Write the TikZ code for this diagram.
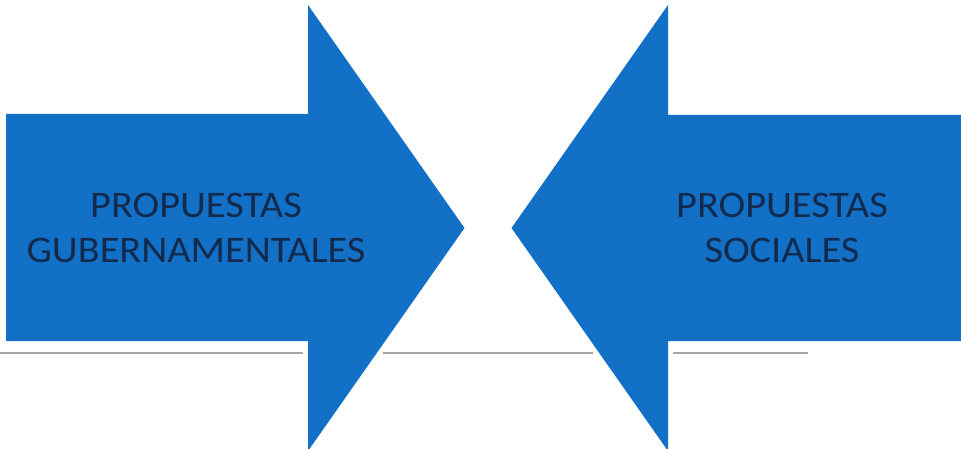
\documentclass[tikz,border=0pt]{standalone}
\usepackage{fontspec}
\setmainfont{Carlito}
\definecolor{arrowblue}{RGB}{18,112,199}
\definecolor{textnavy}{RGB}{18,42,76}
\definecolor{rulegray}{RGB}{166,166,166}
\begin{document}
\begin{tikzpicture}[x=1pt,y=-1pt,
  arrowshape/.style={fill=arrowblue,draw=none},
  rule/.style={draw=rulegray,line width=1.6pt},
  label/.style={text=textnavy,align=center,inner sep=0pt,xscale=1.075,
    font=\fontsize{37.5}{45}\selectfont}]
\useasboundingbox (0,0) rectangle (961,449);
\fill[white] (0,0) rectangle (961,449);
% rules
\draw[rule] (0,353) -- (303,353);
\draw[rule] (383,353) -- (593,353);
\draw[rule] (673,353) -- (808,353);
% left arrow
\path[arrowshape] (6,114) -- (308,114) -- (308,5) -- (464.5,228) -- (308,451) -- (308,341) -- (6,341) -- cycle;
% right arrow
\path[arrowshape] (963,115) -- (668,115) -- (668,5) -- (511.5,228) -- (668,451) -- (668,341) -- (963,341) -- cycle;
\node[label] (gov) at (196,227.5) {PROPUESTAS\\GUBERNAMENTALES};
\node[label] (soc) at (782,227.5) {PROPUESTAS\\SOCIALES};
\end{tikzpicture}
\end{document}
